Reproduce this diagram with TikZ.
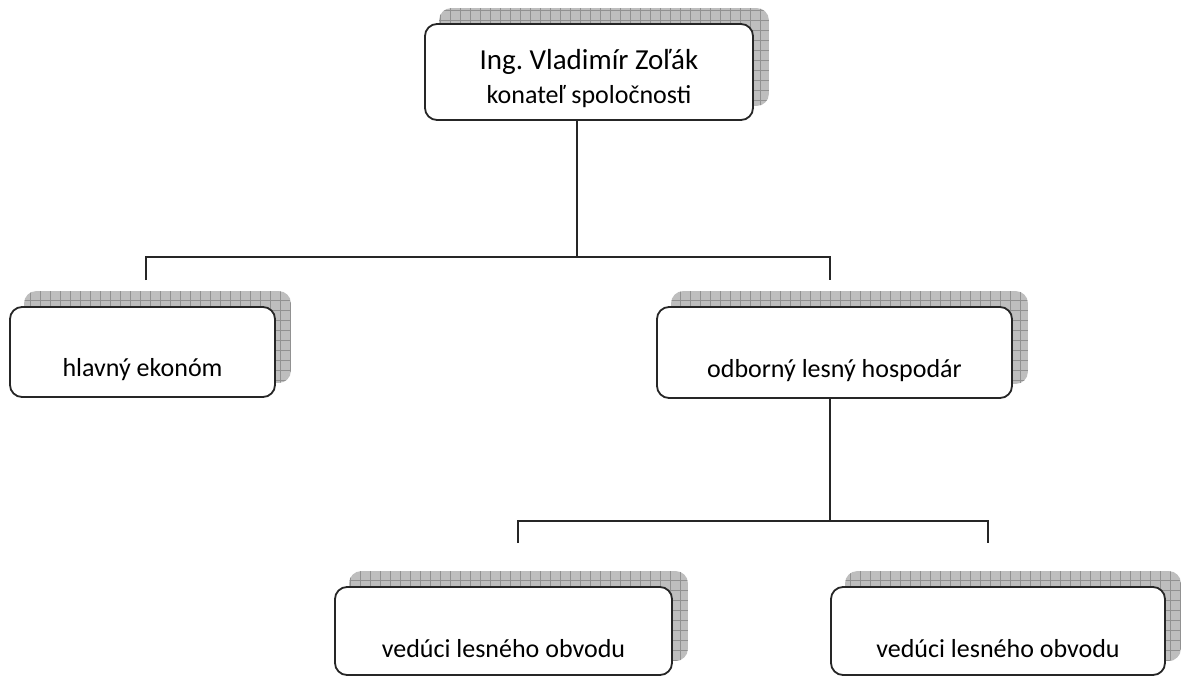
\documentclass[tikz,border=0pt]{standalone}
\usepackage{fontspec}
\setmainfont{Carlito}
\frenchspacing
\usetikzlibrary{backgrounds}
\definecolor{shadefill}{RGB}{190,190,190}
\definecolor{shadegrid}{RGB}{145,145,145}
\tikzset{
  orgbox/.style={draw=black!85, line width=1.8pt, rounded corners=12pt, fill=white,
    inner sep=0pt, align=center, font=\fontsize{26}{34}\selectfont},
  conn/.style={draw=black!85, line width=2pt},
  shadowpath/.style={fill=shadefill, rounded corners=12pt,
    path picture={\draw[shadegrid, line width=0.7pt] (path picture bounding box.south west) grid[step=10pt] (path picture bounding box.north east);}}
}
\newcommand{\blankline}{\rule{0pt}{20pt}}
\begin{document}
\begin{tikzpicture}[x=1pt,y=-1pt]
\useasboundingbox (0,0) rectangle (1181,677);
\node[orgbox, minimum width=328pt, minimum height=96pt] (top) at (589,72)
  {{\fontsize{29}{33}\selectfont\rule{0pt}{34pt}Ing. Vladimír Zoľák}\\{\fontsize{26}{33}\selectfont konateľ spoločnosti}};
\node[orgbox, minimum width=265pt, minimum height=90pt] (he) at (142.5,352) {\blankline\\hlavný ekonóm};
\node[orgbox, minimum width=355pt, minimum height=91pt] (olh) at (834.5,352.5) {\blankline\\odborný lesný hospodár};
\node[orgbox, minimum width=337pt, minimum height=88pt] (vlo1) at (503.5,631) {\blankline\\vedúci lesného obvodu};
\node[orgbox, minimum width=334pt, minimum height=88pt] (vlo2) at (998,631) {\blankline\\vedúci lesného obvodu};
\begin{scope}[on background layer]
\foreach \n in {top,he,olh,vlo1,vlo2}{
  \path[shadowpath] ([shift={(15,-15)}]\n.south west) rectangle ([shift={(15,-15)}]\n.north east);
}
\end{scope}
\coordinate (j1) at (577,257);
\coordinate (t1) at (146,280);
\coordinate (t2) at (830,280);
\coordinate (j2) at (830,521);
\coordinate (t3) at (518,543);
\coordinate (t4) at (988,543);
\draw[conn] (top.south -| j1) -- (j1);
\draw[conn] (t1) |- (j1) -| (t2);
\draw[conn] (olh.south -| j2) -- (j2);
\draw[conn] (t3) |- (j2) -| (t4);
\end{tikzpicture}
\end{document}
